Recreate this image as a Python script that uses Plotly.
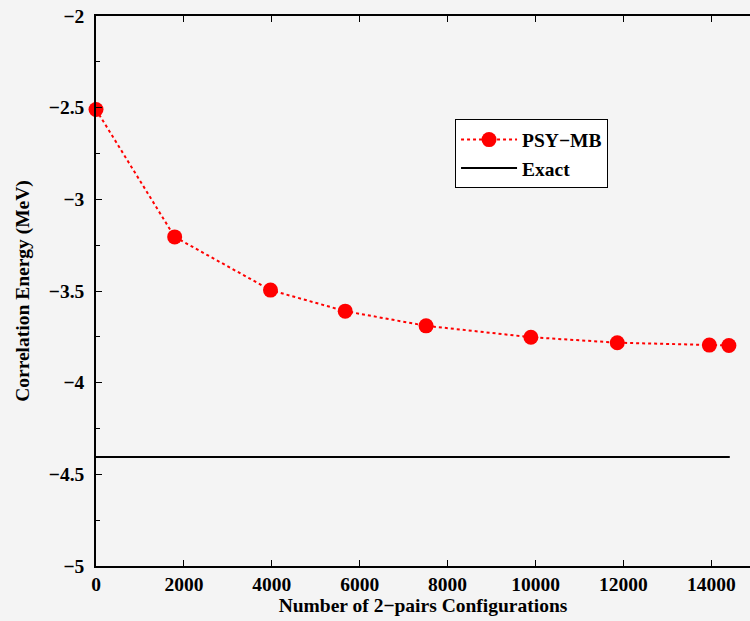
import plotly.graph_objects as go

# PSY-MB correlation energy versus number of 2-pair configurations
configs = [0, 1790, 3970, 5670, 7510, 9895, 11860, 13955, 14400]
energy = [-2.51, -3.205, -3.495, -3.61, -3.69, -3.752, -3.782, -3.795, -3.797]

# exact reference value
exact_x = [0, 14420]
exact_e = [-4.405, -4.405]

x_ticks = [0, 2000, 4000, 6000, 8000, 10000, 12000, 14000]
x_tick_labels = [str(v) for v in x_ticks]

BG = "#f4f4f4"
FONT = "Liberation Serif"
FS = 19.5

fig = go.Figure()
fig.add_trace(go.Scatter(
    x=configs, y=energy, mode="lines+markers", name="PSY\u2212MB",
    line=dict(color="#ff0000", width=2, dash="dot"),
    marker=dict(color="#ff0000", size=15),
    cliponaxis=False,
))
fig.add_trace(go.Scatter(
    x=exact_x, y=exact_e, mode="lines", name="Exact",
    line=dict(color="black", width=2),
))

fig.update_layout(
    width=750, height=621,
    margin=dict(l=96, r=0, t=16, b=55),
    paper_bgcolor=BG, plot_bgcolor=BG,
    font=dict(family=FONT, size=FS, color="black", weight="bold"),
    showlegend=True,
    legend=dict(
        x=0.549, y=0.812, xanchor="left", yanchor="top",
        bgcolor="white", bordercolor="black", borderwidth=1,
        font=dict(family=FONT, size=FS, weight="bold"),
        itemwidth=56, tracegroupgap=0,
    ),
)

fig.update_xaxes(
    range=[0, 14880], tickvals=x_ticks, ticktext=x_tick_labels,
    ticks="inside", ticklen=6, tickcolor="black", tickwidth=1,
    showline=True, linecolor="black", linewidth=1.5, mirror="ticks",
    showgrid=False, zeroline=False,
    tickfont=dict(family=FONT, size=FS, weight="bold"),
    title=dict(text="Number of 2\u2212pairs Configurations",
               font=dict(family=FONT, size=FS, weight="bold"), standoff=4),
)
fig.update_yaxes(
    range=[-5, -2], dtick=0.5, tick0=-5,
    ticks="inside", ticklen=6, tickcolor="black", tickwidth=1,
    minor=dict(dtick=0.25, tick0=-5, ticks="inside", ticklen=4, tickcolor="black", showgrid=False),
    showline=True, linecolor="black", linewidth=1.5, mirror=False,
    showgrid=False, zeroline=False,
    tickfont=dict(family=FONT, size=FS, weight="bold"),
    ticklabelstandoff=6,
    title=dict(text="Correlation Energy (MeV)",
               font=dict(family=FONT, size=FS, weight="bold"), standoff=14),
)

fig.write_html("out.html")
